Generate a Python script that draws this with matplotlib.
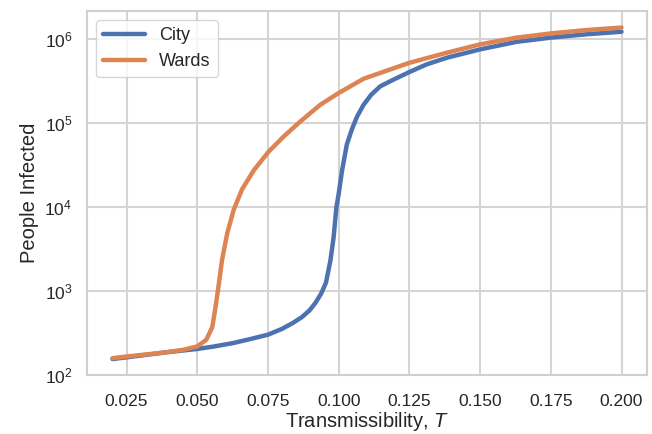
import numpy as np
import matplotlib
matplotlib.use("Agg")
import matplotlib.pyplot as plt
import seaborn as sns

# transmissibility grid and log10 of people infected, per model
city_T = [0.020, 0.025, 0.032, 0.039, 0.050, 0.056, 0.0626, 0.069, 0.075,
          0.080, 0.0838, 0.087, 0.0897, 0.0918, 0.0938, 0.0955, 0.0971,
          0.0982, 0.0992, 0.1000, 0.1012, 0.1029, 0.1047, 0.1065, 0.1088,
          0.1115, 0.1147, 0.1194, 0.125, 0.131, 0.1382, 0.150, 0.1629,
          0.175, 0.1876, 0.200]
city_log = [2.19, 2.21, 2.24, 2.27, 2.31, 2.34, 2.38, 2.43, 2.48,
            2.55, 2.62, 2.69, 2.77, 2.86, 2.97, 3.10, 3.37,
            3.64, 4.00, 4.16, 4.44, 4.75, 4.93, 5.08, 5.22,
            5.34, 5.44, 5.52, 5.61, 5.70, 5.78, 5.88, 5.97,
            6.02, 6.06, 6.09]

wards_T = [0.020, 0.025, 0.032, 0.039, 0.045, 0.050, 0.0532, 0.0553,
           0.0565, 0.0576, 0.0588, 0.0606, 0.0629, 0.0658, 0.070, 0.0752,
           0.0805, 0.0864, 0.0935, 0.100, 0.1088, 0.125, 0.1382, 0.150,
           0.1629, 0.175, 0.1876, 0.200]
wards_log = [2.20, 2.22, 2.245, 2.27, 2.30, 2.34, 2.42, 2.57,
             2.82, 3.08, 3.38, 3.69, 3.97, 4.21, 4.44, 4.66,
             4.84, 5.02, 5.22, 5.36, 5.53, 5.72, 5.84, 5.94,
             6.02, 6.07, 6.11, 6.14]

sns.set_style("whitegrid", {"grid.linewidth": 1.5, "axes.linewidth": 1.5})
plt.rcParams["font.family"] = ["Liberation Sans", "DejaVu Sans"]
plt.rcParams["mathtext.fontset"] = "custom"
plt.rcParams["mathtext.it"] = "Liberation Sans:italic"
plt.rcParams["mathtext.rm"] = "Liberation Sans"

fig, ax = plt.subplots(figsize=(6.52, 4.34), dpi=100)
fig.subplots_adjust(left=0.1334, right=0.9923, bottom=0.136, top=0.9747)

pal = sns.color_palette("deep")
ax.plot(city_T, 10 ** np.array(city_log), color=pal[0], lw=3.2,
        solid_joinstyle="round", label="City")
ax.plot(wards_T, 10 ** np.array(wards_log), color=pal[1], lw=3.2,
        solid_joinstyle="round", label="Wards")
ax.set_yscale("log")
ax.set_ylim(bottom=100)
ax.grid(True, linewidth=1.5, color="#d4d4d4")
for sp in ax.spines.values():
    sp.set_linewidth(1.5)
    sp.set_color("#d0d0d0")

ax.set_xlabel("Transmissibility, $T$", fontsize=14.5, color="#262626", labelpad=0.5)
ax.set_ylabel("People Infected", fontsize=14.5, color="#262626")
ax.tick_params(labelsize=12.5, colors="#262626")
ax.tick_params(axis="x", pad=10.5)
ax.tick_params(axis="y", pad=7)
ax.legend(loc="upper left", fontsize=13, handlelength=2.3)

fig.savefig("out.png", dpi=100)
